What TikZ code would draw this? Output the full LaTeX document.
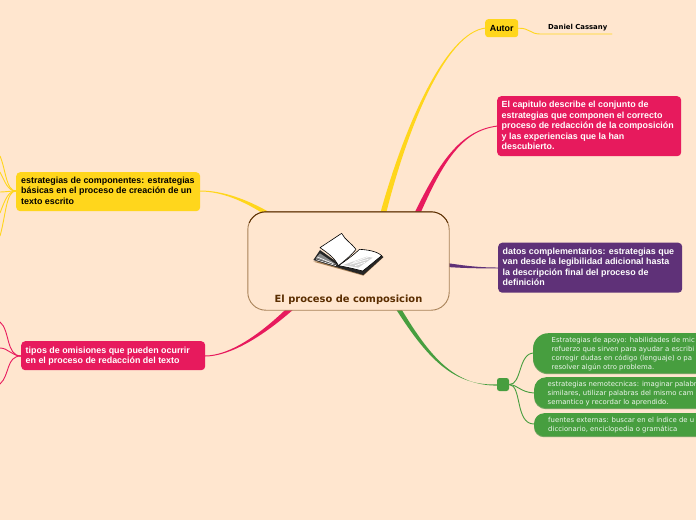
\documentclass[tikz,border=0pt]{standalone}
\usepackage{fontspec}
\setmainfont{Liberation Sans}
\newfontfamily\dejavu{DejaVu Sans}
\usetikzlibrary{calc}
\definecolor{bgc}{HTML}{FFE6CF}
\definecolor{yel}{HTML}{FFD61C}
\definecolor{pnk}{HTML}{E71A5D}
\definecolor{pur}{HTML}{5F3178}
\definecolor{grn}{HTML}{479E3F}
\definecolor{brn}{HTML}{5A2D00}
\definecolor{tan}{HTML}{A88258}
\newcommand{\taper}[7]{% color, start, c1, c2, end, half-width offset at start, offset at end
  \fill[#1] ($(#2)+#6$) .. controls ($#3+0.6*#6$) and ($#4+0.2*#6$) .. ($(#5)+#7$) -- ($(#5)-#7$) .. controls ($#4-0.2*#6$) and ($#3-0.6*#6$) .. ($(#2)-#6$) -- cycle;}
\tikzset{
  x=1pt,y=-1pt,
  cardtxt/.style={anchor=north west,inner sep=0pt,align=left,font=\bfseries\fontsize{8.9}{10.45}\selectfont},
  pilltxt/.style={anchor=north west,inner sep=0pt,align=left,text=white!90!grn,font=\dejavu\fontsize{6.9}{8.9}\selectfont},
  thin link/.style={line width=0.9pt,line cap=round},
  pagefill/.style={fill=white,draw=black,line width=0.6pt,line join=round},
}
\begin{document}
\begin{tikzpicture}
\useasboundingbox (0,0) rectangle (696,520);
\fill[bgc] (0,0) rectangle (696,520);
% anchor points on the root
\coordinate (rY) at (383,214);
\coordinate (rP) at (417,214);
\coordinate (rV) at (447,265);
\coordinate (rG) at (398,308);
\coordinate (rL) at (291,308);
\coordinate (rK) at (268,214);
% attach points
\coordinate (aAutor) at (486,28);
\coordinate (aDesc) at (498,126);
\coordinate (aDatos) at (499,268);
\coordinate (aGr) at (498,385);
\coordinate (aTipos) at (205,356);
\coordinate (aEstr) at (200,191);
\coordinate (sY1) at (0,156);
\coordinate (sY4) at (0,172);
\coordinate (sY2) at (0,192);
\coordinate (sY5) at (0,213);
\coordinate (sY3) at (0,236);
\coordinate (sP1) at (0,322);
\coordinate (sP2) at (0,348);
\coordinate (sP3) at (0,384);
\coordinate (hubY) at (16,191);
\coordinate (hubP) at (21,356);
\coordinate (dU) at (540,34);
\coordinate (dE) at (612,34);
% tapered branches
\taper{yel}{rY}{(405,130)}{(445,32)}{aAutor}{(2.8,0.5)}{(0,0.5)}
\taper{pnk}{rP}{(440,165)}{(460,130)}{aDesc}{(2.6,1)}{(0,0.5)}
\taper{pur}{rV}{(465,267)}{(480,268)}{aDatos}{(0,2)}{(0,0.5)}
\taper{grn}{rG}{(430,360)}{(455,386)}{aGr}{(2,-1.2)}{(0,0.6)}
\taper{pnk}{rL}{(262,335)}{(230,356)}{aTipos}{(2.2,1.6)}{(0,0.5)}
\taper{yel}{rK}{(245,200)}{(222,191)}{aEstr}{(-1,2)}{(0,0.5)}
% root
\node[draw=none,rounded corners=18pt,minimum width=201pt,minimum height=98pt,inner sep=0pt,fill=bgc] (root) at (348.5,261) {};
\draw[tan,line width=0.9pt,rounded corners=18pt] (root.north west) rectangle (root.south east);
\begin{scope}
\clip (240,205) rectangle (460,222);
\draw[brn,line width=0.9pt,rounded corners=18pt] (root.north west) rectangle (root.south east);
\end{scope}
\node[inner sep=0pt,text=brn,font=\dejavu\bfseries\fontsize{9.9}{11}\selectfont] (rootlabel) at (348.5,300) {El proceso de composicion};
% book
\begin{scope}[shift={(300,225)},scale=1/3]
\fill[tan] (40,110) -- (190,152) -- (250,97) -- (245,90) -- cycle;
\fill[black!85] (40,105) -- (60,75) -- (120,118) -- (178,82) -- (245,92) -- (250,96) -- (190,150) -- (115,128) -- cycle;
\fill[black!45] (47,100) -- (60,85) -- (112,120) -- (60,105) -- cycle;
\draw[white,line width=0.6pt] (48,104) -- (108,122) (52,96) -- (100,116);
\draw[pagefill] (115,122) .. controls (145,102) and (170,82) .. (178,73) .. controls (200,74) and (230,78) .. (245,92) .. controls (220,112) and (205,125) .. (188,138) .. controls (165,132) and (140,126) .. (115,122) -- cycle;
\fill[black!18] (130,120) -- (200,95) -- (218,98) -- (175,128) -- cycle;
\draw[white,line width=0.7pt] (160,112) -- (215,92) (150,118) -- (205,103) (165,122) -- (195,112);
\draw[pagefill] (125,25) .. controls (135,45) and (155,55) .. (168,73) .. controls (150,95) and (130,110) .. (115,122) .. controls (105,100) and (85,85) .. (60,68) -- cycle;
\end{scope}
% yellow left
\node[fill=yel,rounded corners=4pt,minimum width=184pt,minimum height=39pt,inner sep=0pt,anchor=north west] (estr) at (16,172) {};
\node[cardtxt] (estrt) at (21,176.6) {estrategias de componentes: estrategias\\básicas en el proceso de creación de un\\texto escrito};
% pink left
\node[fill=pnk,rounded corners=4pt,minimum width=184pt,minimum height=29pt,inner sep=0pt,anchor=north west] (tipos) at (21,341) {};
\node[cardtxt,text=white] (tipost) at (25.5,346.6) {tipos de omisiones que pueden ocurrir\\en el proceso de redacción del texto};
% Autor
\node[fill=yel,rounded corners=3pt,minimum width=33pt,minimum height=18pt,inner sep=0pt,anchor=north west,font=\bfseries\fontsize{8.9}{10}\selectfont] (autor) at (485,19) {Autor};
\node[inner sep=0pt,anchor=west,font=\dejavu\bfseries\fontsize{6.9}{8}\selectfont] (daniel) at (548,27.5) {Daniel Cassany};
% pink top
\node[fill=pnk,rounded corners=4pt,minimum width=184pt,minimum height=60pt,inner sep=0pt,anchor=north west] (desc) at (497,96) {};
\node[cardtxt,text=white] (desct) at (501.5,101) {El capitulo describe el conjunto de\\estrategias que componen el correcto\\proceso de redacción de la composición\\y las experiencias que la han\\descubierto.};
% purple
\node[fill=pur,rounded corners=4pt,minimum width=184pt,minimum height=50pt,inner sep=0pt,anchor=north west] (datos) at (498,242.5) {};
\node[cardtxt,text=white] (datost) at (502.5,247.6) {datos complementarios: estrategias que\\van desde la legibilidad adicional hasta\\la descripción final del proceso de\\definición};
% green hub and pills
\node[fill=grn,rounded corners=2.5pt,minimum width=12pt,minimum height=13pt,inner sep=0pt] (hub) at (503,384.5) {};
\draw[grn,thin link] (hub.east) .. controls (522,385) and (518,353) .. (534,353);
\draw[grn,thin link] (hub.east) .. controls (518,385) and (520,392) .. (534,393);
\draw[grn,thin link] (hub.east) .. controls (522,385) and (515,424) .. (534,424);
\fill[black!12!grn!70!bgc,rounded corners=15pt] (533,334.2) rectangle (720,374.2);
\fill[black!12!grn!70!bgc,rounded corners=12pt] (534,378.2) rectangle (720,409.2);
\fill[black!12!grn!70!bgc,rounded corners=10pt] (534,414.2) rectangle (720,437.2);
\node[fill=grn,rounded corners=15pt,minimum width=187pt,minimum height=40pt,inner sep=0pt,anchor=north west] (p1) at (533,333) {};
\node[fill=grn,rounded corners=12pt,minimum width=186pt,minimum height=31pt,inner sep=0pt,anchor=north west] (p2) at (534,377) {};
\node[fill=grn,rounded corners=10pt,minimum width=186pt,minimum height=23pt,inner sep=0pt,anchor=north west] (p3) at (534,413) {};
\node[pilltxt] (p1t) at (551.5,337) {Estrategias de apoyo: habilidades de mic\\refuerzo que sirven para ayudar a escribi\\corregir dudas en código (lenguaje) o pa\\resolver algún otro problema.};
\node[pilltxt] (p2t) at (547.5,381.5) {estrategias nemotecnicas: imaginar palabr\\similares, utilizar palabras del mismo cam\\semantico y recordar lo aprendido.};
\node[pilltxt] (p3t) at (548,417) {fuentes externas: buscar en el índice de u\\diccionario, enciclopedia o gramática};
% Autor to Daniel
\draw[yel,thin link] (autor.east) .. controls (530,28) and (530,34) .. (dU) -- (dE);
% stubs left
\draw[yel,thin link] (hubY) .. controls (6,191) and (6,170) .. (sY1);
\draw[yel,thin link] (hubY) .. controls (8,191) and (5,182) .. (sY4);
\draw[yel,thin link] (hubY) .. controls (10,191) and (5,192) .. (sY2);
\draw[yel,thin link] (hubY) .. controls (8,191) and (5,200) .. (sY5);
\draw[yel,thin link] (hubY) .. controls (6,191) and (6,215) .. (sY3);
\draw[pnk,thin link] (hubP) .. controls (6,356) and (10,330) .. (sP1);
\draw[pnk,thin link] (hubP) .. controls (12,356) and (8,348) .. (sP2);
\draw[pnk,thin link] (hubP) .. controls (6,356) and (10,375) .. (sP3);
\end{tikzpicture}
\end{document}
